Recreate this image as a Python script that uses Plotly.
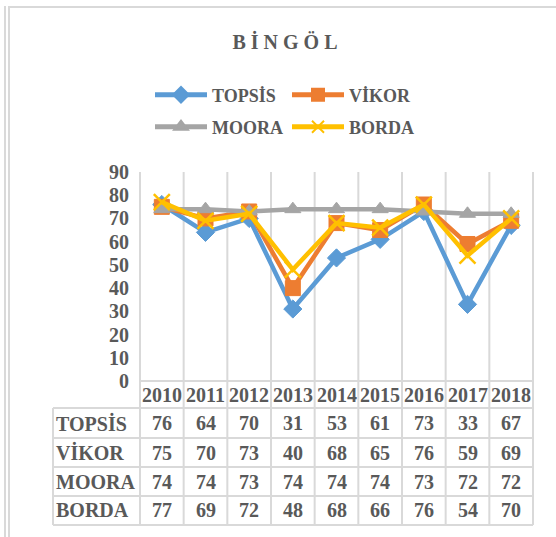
import plotly.graph_objects as go

years = ["2010", "2011", "2012", "2013", "2014", "2015", "2016", "2017", "2018"]
series_names = ["TOPSİS", "VİKOR", "MOORA", "BORDA"]
topsis = [76, 64, 70, 31, 53, 61, 73, 33, 67]
vikor = [75, 70, 73, 40, 68, 65, 76, 59, 69]
moora = [74, 74, 73, 74, 74, 74, 73, 72, 72]
borda = [77, 69, 72, 48, 68, 66, 76, 54, 70]
y_ticks = [0, 10, 20, 30, 40, 50, 60, 70, 80, 90]

values = [topsis, vikor, moora, borda]
colors = ["#5B9BD5", "#ED7D31", "#A5A5A5", "#FFC000"]
symbols = ["diamond", "square", "triangle-up", "x-thin"]
sizes = [14, 15, 14, 16]

W, H = 556, 537
ML, MR, MT, MB = 140, 23, 172, 156
PW = W - ML - MR
PH = H - MT - MB
BOTTOM = H - MB  # pixel y of value 0


def fx(p):
    return (p - ML) / PW


def fy(p):
    return (BOTTOM - p) / PH


TXT = "#595959"
GRID = "#D9D9D9"
FONT = "Liberation Serif"

fig = go.Figure()
legend_ids = ["legend", "legend2", "legend3", "legend4"]
for i, name in enumerate(series_names):
    mk = dict(symbol=symbols[i], size=sizes[i], color=colors[i],
              line=dict(color=colors[i], width=2.5 if symbols[i] == "x-thin" else 1))
    fig.add_trace(go.Scatter(
        x=years, y=values[i], name=name, mode="lines+markers",
        line=dict(color=colors[i], width=4.5), marker=mk,
        legend=legend_ids[i], cliponaxis=False,
    ))

shapes = []
n = len(years)
table_bottom = 525
for k in range(n + 1):
    shapes.append(dict(type="line", xref="paper", yref="paper",
                       x0=k / n, x1=k / n, y0=1, y1=fy(table_bottom),
                       line=dict(color=GRID, width=2), layer="below"))
row_tops = [381, 408, 438, 467, 496, 525]
for j, ry in enumerate(row_tops):
    x0 = ML if j == 0 else 53
    shapes.append(dict(type="line", xref="paper", yref="paper",
                       x0=fx(x0), x1=1, y0=fy(ry), y1=fy(ry),
                       line=dict(color=GRID, width=2), layer="below"))
shapes.append(dict(type="line", xref="paper", yref="paper",
                   x0=fx(53), x1=fx(53), y0=fy(408), y1=fy(table_bottom),
                   line=dict(color=GRID, width=2), layer="below"))
# outer chart frame
shapes.append(dict(type="line", xref="paper", yref="paper",
                   x0=fx(9), x1=fx(W + 5), y0=fy(7), y1=fy(7),
                   line=dict(color=GRID, width=2), layer="below"))
for xx in (5, 9):
    shapes.append(dict(type="line", xref="paper", yref="paper",
                       x0=fx(xx), x1=fx(xx), y0=fy(6), y1=fy(H + 5),
                       line=dict(color=GRID, width=2), layer="below"))

annotations = []
cell_font = dict(family=FONT, size=20, color=TXT, weight="bold")
for i, yr in enumerate(years):
    annotations.append(dict(x=i, xref="x", y=fy((381 + 408) / 2), yref="paper",
                            text=yr, showarrow=False, font=cell_font,
                            xanchor="center", yanchor="middle"))
for r, name in enumerate(series_names):
    cy = fy((row_tops[r + 1] + row_tops[r + 2]) / 2)
    annotations.append(dict(x=fx(54), xref="paper", y=cy, yref="paper",
                            text=name, showarrow=False, font=cell_font,
                            xanchor="left", yanchor="middle"))
    for i, v in enumerate(values[r]):
        annotations.append(dict(x=i, xref="x", y=cy, yref="paper",
                                text=str(v), showarrow=False, font=cell_font,
                                xanchor="center", yanchor="middle"))

legend_pos = [(150, 95), (287, 95), (150, 127), (287, 127)]
legend_layouts = {}
for lid, (lx, ly) in zip(legend_ids, legend_pos):
    legend_layouts[lid] = dict(
        x=fx(lx), xanchor="left", y=fy(ly), yanchor="middle",
        orientation="h", bgcolor="rgba(0,0,0,0)", borderwidth=0,
        font=dict(family=FONT, size=18, color=TXT, weight="bold"),
        itemwidth=52, itemsizing="constant",
    )

fig.update_layout(
    width=W, height=H,
    margin=dict(l=ML, r=MR, t=MT, b=MB, pad=0),
    paper_bgcolor="white", plot_bgcolor="white",
    title=dict(text="B İ N G Ö L", x=285 / W, xref="container", xanchor="center",
               y=1 - 42 / H, yref="container", yanchor="middle",
               font=dict(family=FONT, size=20, color=TXT, weight="bold")),
    xaxis=dict(type="category", range=[-0.5, n - 0.5], showgrid=False,
               showticklabels=False, showline=False, zeroline=False, ticks=""),
    yaxis=dict(range=[0, 90], tickvals=y_ticks, showgrid=False, zeroline=False,
               showline=False, ticks="outside", ticklen=6, tickcolor="rgba(0,0,0,0)",
               tickfont=dict(family=FONT, size=20, color=TXT, weight="bold")),
    shapes=shapes, annotations=annotations,
    showlegend=True,
    **legend_layouts,
)

fig.write_html("out.html", config={"displayModeBar": False},
               post_script="document.body.style.margin='0';")
